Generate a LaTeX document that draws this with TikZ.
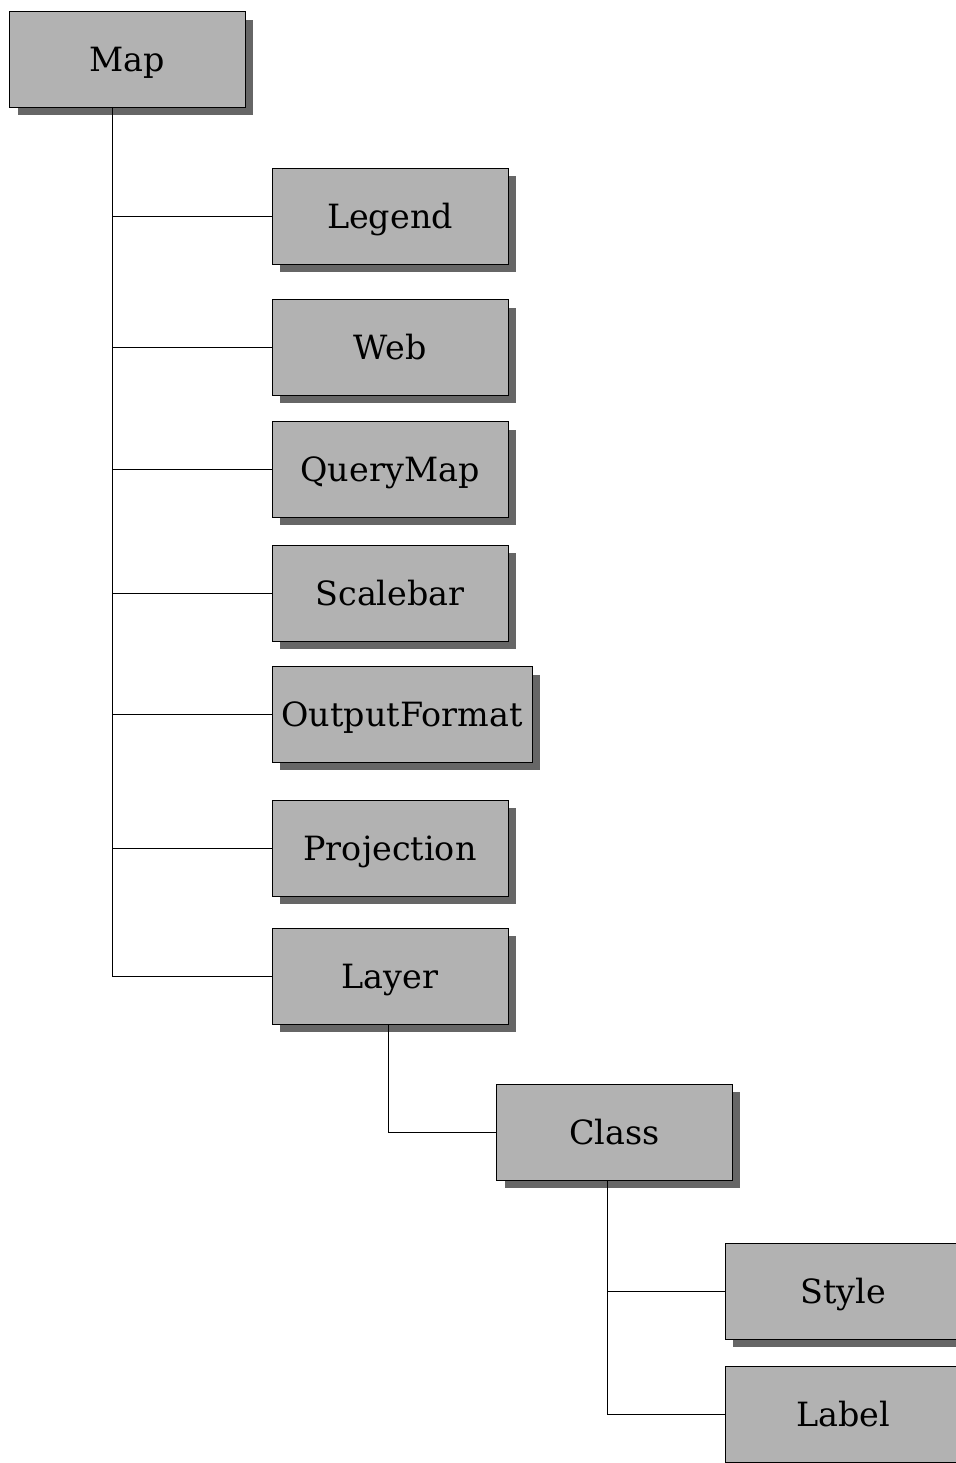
\documentclass[tikz,border=0pt]{standalone}
\usepackage{fontspec}
\setmainfont{DejaVu Serif}
\usetikzlibrary{shadows}
\begin{document}
\begin{tikzpicture}[x=0.02cm, y=-0.02cm]
			\tikzset{b/.style={draw=black, line width=0.5pt, fill=boxgray, minimum width=4.72cm, minimum height=1.92cm, inner sep=0pt,
				font=\fontsize{19}{23}\selectfont, text height=13.9pt, text depth=0pt,
				drop shadow={shadow xshift=0.16cm, shadow yshift=-0.16cm, fill=shadowgray, opacity=1}},
			l/.style={draw=black, line width=0.5pt}};
			\definecolor{boxgray}{gray}{0.70}
			\definecolor{shadowgray}{gray}{0.40}

			\useasboundingbox (0,0) rectangle (956,1463);
			\clip (0,0) rectangle (956,1463);

			\node[b] (map) at (127.5,59.5) {Map};
			\node[b] (legend) at (390,216) {Legend};
			\node[b] (web) at (390,347.5) {Web};
			\node[b] (querymap) at (390,469.5) {QueryMap};
			\node[b] (scalebar) at (390,593) {Scalebar};
			\node[b, minimum width=5.2cm] (outputformat) at (402,714.5) {OutputFormat};
			\node[b] (projection) at (390,848) {Projection};
			\node[b] (layer) at (390,976) {Layer};
			\node[b] (class) at (614.5,1132) {Class};
			\node[b] (style) at (843,1291) {Style};
			\node[b] (label) at (843,1414.5) {Label};

			% trunks under the parent boxes
			\coordinate (mapdown) at (112,107);
			\coordinate (layerdown) at (388,1024);
			\coordinate (classdown) at (607,1180);

			\draw[l] (mapdown) -- (mapdown |- layer.west) -- (layer.west);
			\draw[l] (mapdown |- legend.west) -- (legend.west);
			\draw[l] (mapdown |- web.west) -- (web.west);
			\draw[l] (mapdown |- querymap.west) -- (querymap.west);
			\draw[l] (mapdown |- scalebar.west) -- (scalebar.west);
			\draw[l] (mapdown |- outputformat.west) -- (outputformat.west);
			\draw[l] (mapdown |- projection.west) -- (projection.west);
			\draw[l] (layerdown) -- (layerdown |- class.west) -- (class.west);
			\draw[l] (classdown) -- (classdown |- label.west) -- (label.west);
			\draw[l] (classdown |- style.west) -- (style.west);
		\end{tikzpicture}
\end{document}
